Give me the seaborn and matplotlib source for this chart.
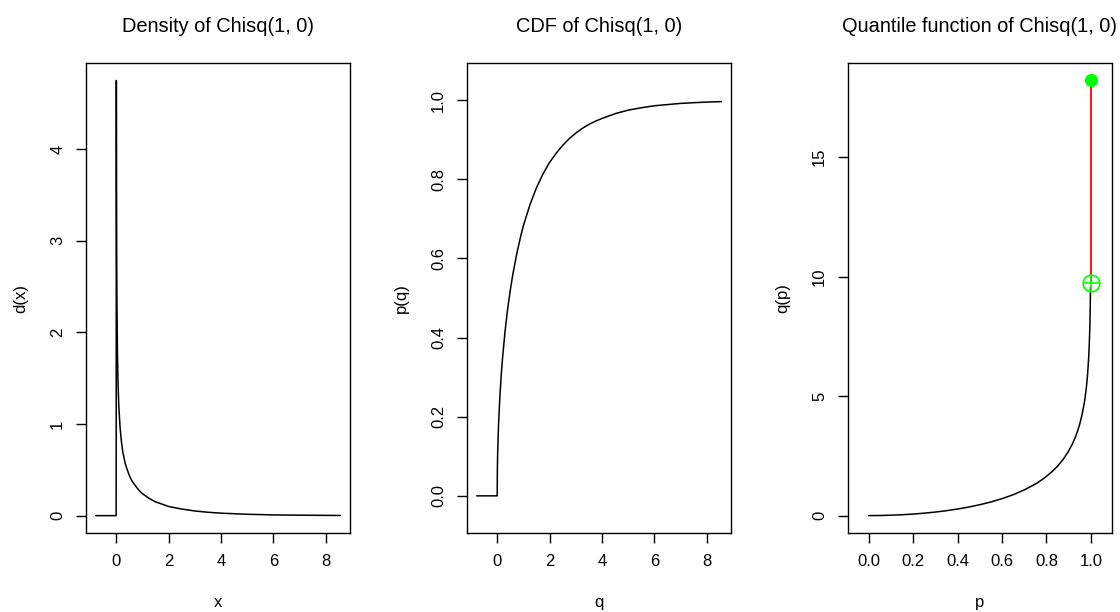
"""Densidade, CDF e quantis da Qui-quadrado(1, 0) em tres paineis"""
import matplotlib
matplotlib.use("Agg")
import matplotlib.pyplot as plt
import seaborn as sns

# Densidade
dens_x = [-0.78, 0.0, 0.0, 0.007, 0.012, 0.02, 0.03, 0.05, 0.07, 0.1, 0.15, 0.2, 0.25,
          0.3, 0.35, 0.4, 0.5, 0.6, 0.75, 0.875, 1.0, 1.25, 1.5, 1.75, 2.0, 2.25, 2.5,
          3.0, 3.5, 4.0, 5.0, 6.0, 7.0, 8.55]
dens_y = [0.0, 0.0, 0.0, 4.75, 3.62, 2.80, 2.28, 1.75, 1.46, 1.20, 0.96, 0.81, 0.70,
          0.63, 0.566, 0.52, 0.44, 0.38, 0.32, 0.275, 0.24, 0.19, 0.15, 0.126, 0.10, 0.086, 0.072,
          0.051, 0.037, 0.027, 0.015, 0.008, 0.005, 0.002]

# Funcao de distribuicao
cdf_q = [-0.78, 0.0, 0.0, 0.005, 0.01, 0.02, 0.05, 0.1, 0.15, 0.2, 0.3, 0.4, 0.5, 0.6,
         0.75, 0.9, 1.0, 1.25, 1.5, 1.75, 2.0, 2.25, 2.5, 2.75, 3.0, 3.25, 3.5, 3.75,
         4.0, 4.5, 5.0, 5.5, 6.0, 6.5, 7.0, 7.5, 8.0, 8.55]
cdf_p = [0.0, 0.0, 0.0, 0.056, 0.08, 0.112, 0.177, 0.248, 0.301, 0.345, 0.416, 0.473, 0.52, 0.561,
         0.613, 0.657, 0.683, 0.736, 0.779, 0.814, 0.843, 0.866, 0.886, 0.903, 0.917, 0.929, 0.939, 0.947,
         0.954, 0.966, 0.975, 0.981, 0.986, 0.989, 0.992, 0.9938, 0.9953, 0.9965]

# Funcao quantil
qf_p = [0.0, 0.05, 0.1, 0.15, 0.2, 0.25, 0.3, 0.35, 0.4, 0.45, 0.5, 0.55, 0.6, 0.65,
        0.7, 0.75, 0.775, 0.8, 0.825, 0.85, 0.875, 0.9, 0.915, 0.93, 0.94, 0.95, 0.96,
        0.97, 0.975, 0.98, 0.985, 0.99, 0.9925, 0.995, 0.997, 0.998]
qf_q = [0.0, 0.004, 0.016, 0.036, 0.064, 0.102, 0.148, 0.206, 0.275, 0.357, 0.455, 0.571,
        0.708, 0.873, 1.074, 1.32, 1.47, 1.642, 1.84, 2.07, 2.35, 2.706, 2.97, 3.28, 3.54,
        3.84, 4.22, 4.71, 5.02, 5.41, 5.92, 6.63, 7.17, 7.88, 8.81, 9.55]

# Segmento vermelho no topo (p = 1)
seg_p = [1.0, 1.0]
seg_q = [9.72, 18.2]

titulos = ["Density of Chisq(1, 0)", "CDF of Chisq(1, 0)", "Quantile function of Chisq(1, 0)"]
rotulos_x = ["x", "q", "p"]
rotulos_y = ["d(x)", "p(q)", "q(p)"]

sns.set_theme(style="white")
plt.rcParams['font.family'] = ['Liberation Sans', 'DejaVu Sans']
plt.rcParams['text.color'] = 'black'
plt.rcParams['axes.labelcolor'] = 'black'
plt.rcParams['xtick.color'] = 'black'
plt.rcParams['ytick.color'] = 'black'

fig = plt.figure(figsize=(11.2, 6.12), dpi=100)
lefts = [0.0768, 0.417, 0.757]
largura = 0.2357
axes = [fig.add_axes([l, 0.129, largura, 0.768]) for l in lefts]

sns.lineplot(x=dens_x, y=dens_y, sort=False, estimator=None, color="black", linewidth=1.1, ax=axes[0])
sns.lineplot(x=cdf_q, y=cdf_p, sort=False, estimator=None, color="black", linewidth=1.1, ax=axes[1])
sns.lineplot(x=qf_p, y=qf_q, sort=False, estimator=None, color="black", linewidth=1.1, ax=axes[2])
sns.lineplot(x=seg_p, y=seg_q, sort=False, estimator=None, color="red", linewidth=1.3, ax=axes[2])

# pontos nas extremidades
axes[2].plot([seg_p[1]], [seg_q[1]], marker="o", markersize=8.5, color="#00ff00", linestyle="none")
axes[2].plot([seg_p[0]], [seg_q[0]], marker="o", markersize=12, markerfacecolor="none",
             markeredgecolor="#00ff00", markeredgewidth=1.2, linestyle="none")
axes[2].plot([seg_p[0]], [seg_q[0]], marker="+", markersize=12, color="#00ff00",
             markeredgewidth=1.2, linestyle="none")

axes[0].set_xlim(-1.15, 8.92)
axes[0].set_ylim(-0.19, 4.94)
axes[0].set_xticks([0, 2, 4, 6, 8])
axes[0].set_yticks([0, 1, 2, 3, 4])

axes[1].set_xlim(-1.15, 8.92)
axes[1].set_ylim(-0.094, 1.094)
axes[1].set_xticks([0, 2, 4, 6, 8])
axes[1].set_yticks([0.0, 0.2, 0.4, 0.6, 0.8, 1.0])
axes[1].set_yticklabels(["0.0", "0.2", "0.4", "0.6", "0.8", "1.0"])

axes[2].set_xlim(-0.094, 1.094)
axes[2].set_ylim(-0.73, 18.93)
axes[2].set_xticks([0.0, 0.2, 0.4, 0.6, 0.8, 1.0])
axes[2].set_xticklabels(["0.0", "0.2", "0.4", "0.6", "0.8", "1.0"])
axes[2].set_yticks([0, 5, 10, 15])

for ax, t, xl, yl in zip(axes, titulos, rotulos_x, rotulos_y):
    ax.set_title(t, fontsize=14.4, pad=22, color="black")
    ax.set_xlabel(xl, fontsize=12, labelpad=19)
    ax.set_ylabel(yl, fontsize=12, labelpad=16)
    for s in ax.spines.values():
        s.set_color("black")
        s.set_linewidth(1.0)
    ax.tick_params(axis="both", direction="out", length=7, width=1, color="black",
                   labelcolor="black", labelsize=12, bottom=True, left=True, pad=8)
    for lab in ax.get_yticklabels():
        lab.set_rotation(90)
        lab.set_va("center")

plt.savefig("out.png", dpi=100)
